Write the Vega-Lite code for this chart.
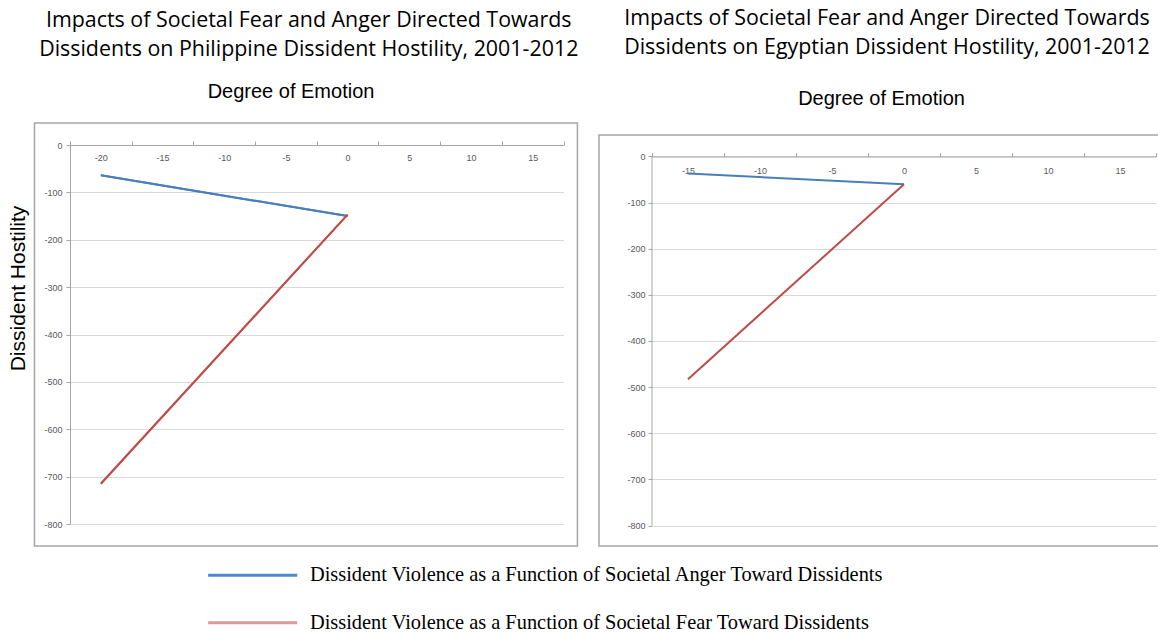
{
  "$schema": "https://vega.github.io/schema/vega-lite/v6.json",
  "padding": {"left": 7, "top": 8, "right": 0, "bottom": 0},
  "background": "white",
  "datasets": {
    "lines": [
      {"country": "Philippines", "series": "Dissident Violence as a Function of Societal Anger Toward Dissidents", "emotion": -20, "hostility": -64},
      {"country": "Philippines", "series": "Dissident Violence as a Function of Societal Anger Toward Dissidents", "emotion": 0, "hostility": -150},
      {"country": "Philippines", "series": "Dissident Violence as a Function of Societal Fear Toward Dissidents", "emotion": -20, "hostility": -715},
      {"country": "Philippines", "series": "Dissident Violence as a Function of Societal Fear Toward Dissidents", "emotion": 0, "hostility": -147},
      {"country": "Egypt", "series": "Dissident Violence as a Function of Societal Anger Toward Dissidents", "emotion": -15, "hostility": -37},
      {"country": "Egypt", "series": "Dissident Violence as a Function of Societal Anger Toward Dissidents", "emotion": 0, "hostility": -60},
      {"country": "Egypt", "series": "Dissident Violence as a Function of Societal Fear Toward Dissidents", "emotion": -15, "hostility": -483},
      {"country": "Egypt", "series": "Dissident Violence as a Function of Societal Fear Toward Dissidents", "emotion": 0, "hostility": -60}
    ]
  },
  "align": "none",
  "spacing": 3,
  "hconcat": [
    {
      "width": 493.5,
      "height": 379,
      "title": {
        "text": ["Impacts of Societal Fear and Anger Directed Towards", "Dissidents on Philippine Dissident Hostility, 2001-2012"],
        "dx": -8,
        "offset": 21
      },
      "layer": [
        {
          "data": {"values": [{}]},
          "mark": {"type": "rect", "fill": null, "stroke": "#a6a6a6", "strokeWidth": 1.5, "clip": false},
          "encoding": {
            "x": {"datum": -25.38, "type": "quantitative", "scale": {"domain": [-22.5, 17.5], "nice": false, "zero": false}, "title": "Degree of Emotion"},
            "x2": {"datum": 18.63},
            "y": {"datum": 46.4, "type": "quantitative", "scale": {"domain": [-800, 0], "nice": false, "zero": false}, "title": "Dissident Hostility"},
            "y2": {"datum": -846.4}
          }
        },
        {
          "data": {"name": "lines"},
          "transform": [{"filter": "datum.country === 'Philippines'"}],
          "mark": {"type": "line", "strokeWidth": 2},
          "encoding": {
            "x": {"field": "emotion", "type": "quantitative", "scale": {"domain": [-22.5, 17.5], "nice": false, "zero": false}, "title": "Degree of Emotion"},
            "y": {"field": "hostility", "type": "quantitative", "scale": {"domain": [-800, 0], "nice": false, "zero": false}, "title": "Dissident Hostility"},
            "stroke": {
              "field": "series", "type": "nominal",
              "scale": {
                "domain": ["Dissident Violence as a Function of Societal Anger Toward Dissidents", "Dissident Violence as a Function of Societal Fear Toward Dissidents"],
                "range": ["#4f87d3", "#de9a99"]
              },
              "legend": {
                "title": null,
                "orient": "none",
                "legendX": 172.5,
                "legendY": 420,
                "symbolType": "M-8,0H8",
                "symbolSize": 124,
                "symbolStrokeWidth": 3,
                "labelFont": "Liberation Serif",
                "labelFontSize": 20.4,
                "labelColor": "#000000",
                "labelOffset": 47,
                "labelLimit": 0,
                "rowPadding": 26.6,
                "padding": 0
              }
            }
          }
        },
        {
          "data": {"name": "lines"},
          "transform": [{"filter": "datum.country === 'Philippines'"}],
          "mark": {"type": "line", "strokeWidth": 2},
          "encoding": {
            "x": {
              "field": "emotion", "type": "quantitative",
              "scale": {"domain": [-22.5, 17.5], "nice": false, "zero": false},
              "axis": {
                "orient": "top",
                "values": [-22.5, -17.5, -12.5, -7.5, -2.5, 2.5, 7.5, 12.5, 17.5],
                "labelExpr": "datum.value < 17 ? '' + (datum.value + 2.5) : ''",
                "labelOffset": 30.85,
                "labelPadding": -16,
                "labelBaseline": "middle",
                "labelFlush": false,
                "labelOverlap": false,
                "grid": false,
                "title": "Degree of Emotion",
                "titleX": 220.5,
                "titleY": -54,
                "titleBaseline": "middle"
              }
            },
            "y": {
              "field": "hostility", "type": "quantitative",
              "scale": {"domain": [-800, 0], "nice": false, "zero": false},
              "axis": {
                "values": [-800, -700, -600, -500, -400, -300, -200, -100, 0],
                "labelExpr": "'' + datum.value",
                "grid": true,
                "labelPadding": 4,
                "title": "Dissident Hostility",
                "titleFontSize": 21,
                "titleX": -51.5,
                "titleY": 143,
                "titleAngle": -90,
                "titleAlign": "center",
                "titleBaseline": "middle"
              }
            },
            "color": {
              "field": "series", "type": "nominal",
              "scale": {
                "domain": ["Dissident Violence as a Function of Societal Anger Toward Dissidents", "Dissident Violence as a Function of Societal Fear Toward Dissidents"],
                "range": ["#4a7ebb", "#be4b48"]
              },
              "legend": null
            }
          }
        }
      ]
    },
    {
      "width": 504,
      "height": 380.5,
      "title": {
        "text": ["Impacts of Societal Fear and Anger Directed Towards", "Dissidents on Egyptian Dissident Hostility, 2001-2012"],
        "dx": -17,
        "offset": 29.5
      },
      "layer": [
        {
          "data": {"values": [{}]},
          "mark": {"type": "rect", "fill": null, "stroke": "#a6a6a6", "strokeWidth": 1.5, "clip": false},
          "encoding": {
            "x": {"datum": -21.18, "type": "quantitative", "scale": {"domain": [-17.5, 17.5], "nice": false, "zero": false}, "title": "Degree of Emotion"},
            "x2": {"datum": 17.85},
            "y": {"datum": 46.6, "type": "quantitative", "scale": {"domain": [-800, 24.93], "nice": false, "zero": false}, "title": null},
            "y2": {"datum": -844.4}
          }
        },
        {
          "data": {"values": [{}]},
          "mark": {"type": "rule", "color": "#a6a6a6", "strokeWidth": 1},
          "encoding": {
            "x": {"datum": -17.5, "type": "quantitative", "scale": {"domain": [-17.5, 17.5], "nice": false, "zero": false}, "title": "Degree of Emotion"},
            "y": {"datum": 0, "type": "quantitative", "scale": {"domain": [-800, 24.93], "nice": false, "zero": false}, "title": null},
            "y2": {"datum": -800}
          }
        },
        {
          "data": {"name": "lines"},
          "transform": [{"filter": "datum.country === 'Egypt'"}],
          "mark": {"type": "line", "strokeWidth": 2},
          "encoding": {
            "x": {
              "field": "emotion", "type": "quantitative",
              "scale": {"domain": [-17.5, 17.5], "nice": false, "zero": false},
              "axis": {
                "orient": "top",
                "offset": -11.5,
                "values": [-17.5, -12.5, -7.5, -2.5, 2.5, 7.5, 12.5, 17.5],
                "labelExpr": "datum.value < 17 ? '' + (datum.value + 2.5) : ''",
                "labelOffset": 36,
                "labelPadding": -18,
                "labelBaseline": "middle",
                "labelFlush": false,
                "labelOverlap": false,
                "grid": false,
                "title": "Degree of Emotion",
                "titleX": 229,
                "titleY": -58.5,
                "titleBaseline": "middle"
              }
            },
            "y": {
              "field": "hostility", "type": "quantitative",
              "scale": {"domain": [-800, 24.93], "nice": false, "zero": false},
              "axis": {
                "values": [-800, -700, -600, -500, -400, -300, -200, -100, 0],
                "labelExpr": "'' + datum.value",
                "grid": true,
                "domain": false,
                "labelPadding": 3,
                "title": null
              }
            },
            "color": {
              "field": "series", "type": "nominal",
              "scale": {
                "domain": ["Dissident Violence as a Function of Societal Anger Toward Dissidents", "Dissident Violence as a Function of Societal Fear Toward Dissidents"],
                "range": ["#4a7ebb", "#be4b48"]
              },
              "legend": null
            }
          }
        }
      ]
    }
  ],
  "config": {
    "view": {"stroke": null},
    "axis": {
      "labelFont": "Liberation Sans",
      "labelFontSize": 9,
      "labelColor": "#595959",
      "domainColor": "#a6a6a6",
      "tickColor": "#a6a6a6",
      "gridColor": "#d9d9d9",
      "tickSize": 4,
      "titleFont": "Liberation Sans",
      "titleFontSize": 20,
      "titleFontWeight": "normal",
      "titleColor": "#000000"
    },
    "title": {
      "font": "Open Sans",
      "fontSize": 21.4,
      "fontWeight": "normal",
      "color": "#000000",
      "anchor": "middle",
      "lineHeight": 29
    }
  }
}
